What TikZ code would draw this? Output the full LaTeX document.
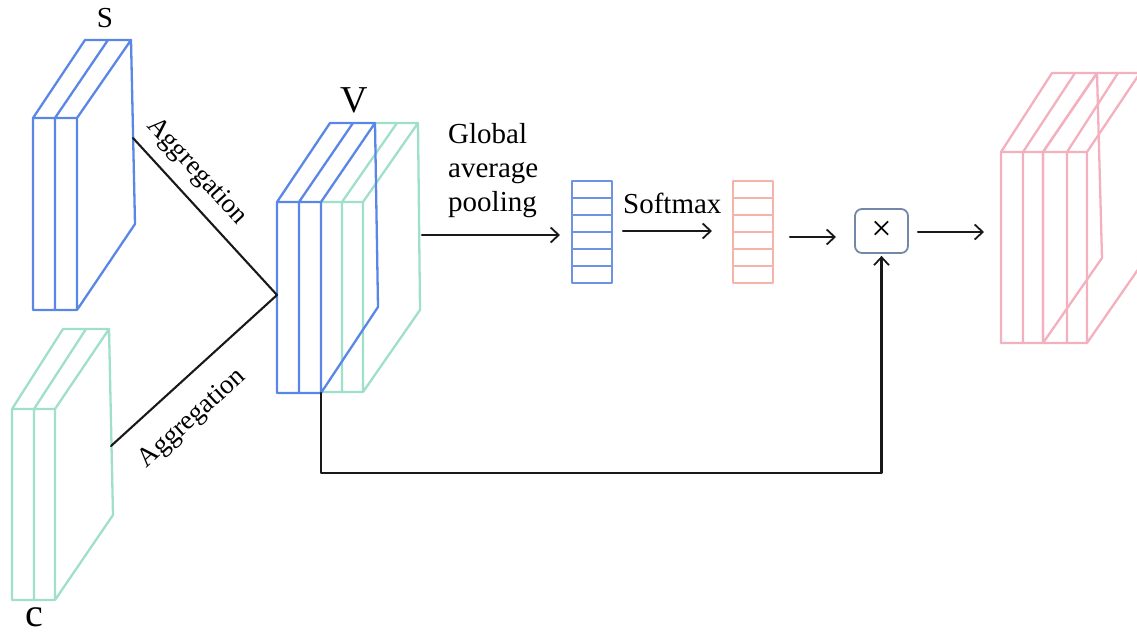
\documentclass[tikz,border=0pt]{standalone}
\usepackage{fontspec}
\setmainfont{Liberation Serif}
\usetikzlibrary{arrows.meta}
\definecolor{sblue}{RGB}{90,135,230}
\definecolor{vblue}{RGB}{110,148,225}
\definecolor{sgreen}{RGB}{160,224,203}
\definecolor{spink}{RGB}{244,176,190}
\definecolor{vpink}{RGB}{244,180,170}
\definecolor{boxc}{RGB}{115,135,168}
\begin{document}
\begin{tikzpicture}[x=1pt,y=-1pt,line join=round,line cap=round,
  slab/.style={line width=2.3pt},
  conn/.style={line width=2.1pt,draw=black!90},
  arr/.style={conn,-{Straight Barb[length=8pt,width=15pt,line width=1.8pt]}},
  vec/.style={draw,line width=1.6pt,minimum width=40pt,minimum height=102pt,inner sep=0pt},
  txt/.style={font=\fontsize{29}{34}\selectfont,inner sep=0pt},
  agg/.style={font=\fontsize{27}{30}\selectfont,inner sep=0pt},
]
\useasboundingbox (0,0) rectangle (1137,634);

% ---- S block
\draw[slab,sblue] (33,118) rectangle (77,310) (55,118) -- (55,310)
  (33,118) -- (85,40) -- (131,40) -- (77,118) (55,118) -- (108,40)
  (131,40) -- (135,224) -- (77,310);
\node[font=\fontsize{29}{29}\selectfont,inner sep=0pt,anchor=base] (slbl) at (105,28) {S};

% ---- C block
\draw[slab,sgreen] (12,409) rectangle (55,600) (34,409) -- (34,600)
  (12,409) -- (63,329) -- (109,329) -- (55,409) (34,409) -- (86,329)
  (109,329) -- (113,515) -- (55,600);
\node[font=\fontsize{40}{40}\selectfont,inner sep=0pt,anchor=base] (clbl) at (34,626) {c};

% ---- V block (green behind, blue in front)
\draw[slab,sgreen] (321,202) -- (363,202) -- (363,392) -- (321,392) (342,202) -- (342,392)
  (342,202) -- (397,123) (363,202) -- (418,123) (375,123) -- (418,123) -- (420,310) -- (363,392);
\draw[slab,sblue] (277,202) rectangle (321,393) (299,202) -- (299,393)
  (277,202) -- (330,123) -- (375,123) -- (321,202) (299,202) -- (353,123)
  (375,123) -- (378,307) -- (321,393);
\node[font=\fontsize{38}{38}\selectfont,inner sep=0pt,anchor=base] (vlbl) at (354,112) {V};

% ---- aggregation connectors
\coordinate (sR) at (133,138);
\coordinate (cR) at (111,446);
\coordinate (jn) at (277,295);
\draw[conn] (sR) -- (jn) node[pos=0.32,sloped,above=11pt,agg] (agg1) {Aggregation};
\draw[conn] (cR) -- (jn) node[pos=0.35,sloped,below=22pt,agg] (agg2) {Aggregation};

% ---- global average pooling
\coordinate (vR) at (422,235);
\node[txt,align=left,anchor=north west] (gaptxt) at (448,123) {Global\\average\\pooling};
\node[vec,draw=vblue] (gv) at (592,232) {};
\foreach \i in {1,...,5} \draw[vblue,line width=1.4pt] (572,181+\i*17) -- (612,181+\i*17);
\coordinate (gvIn) at (560,235);
\draw[arr] (vR) -- (gvIn);

% ---- softmax
\node[txt,anchor=base west] (smtxt) at (623,213) {Softmax};
\node[vec,draw=vpink] (sv) at (753,232) {};
\foreach \i in {1,...,5} \draw[vpink,line width=1.4pt] (733,181+\i*17) -- (773,181+\i*17);
\coordinate (smA) at (623,231);
\coordinate (smB) at (712,231);
\draw[arr] (smA) -- (smB);

% ---- multiply
\node[draw=boxc,line width=1.8pt,rounded corners=7pt,minimum width=53pt,minimum height=44pt,
  font=\fontsize{36}{36}\selectfont,inner sep=0pt] (mul) at (881.5,231) {×};
\coordinate (pA) at (790,237);
\coordinate (pB) at (836,237);
\draw[arr] (pA) -- (pB);
\coordinate (mA) at (918,232);
\coordinate (mB) at (984,232);
\draw[arr] (mA) -- (mB);

% ---- skip connection
\coordinate (vB) at (321,393);
\coordinate (lowL) at (321,473);
\draw[arr,shorten >=2pt] (vB) -- (lowL) -| (mul.south);

% ---- output block
\begin{scope}
\clip (0,0) rectangle (1137,634);
\draw[slab,spink] (1001,152) rectangle (1043,343) (1023,152) -- (1023,343)
  (1001,152) -- (1052,73) -- (1097,73) -- (1043,152) (1023,152) -- (1075,73)
  (1097,73) -- (1102,258) -- (1043,343);
\draw[slab,spink] (1043,152) rectangle (1087,343) (1067,152) -- (1067,343)
  (1043,152) -- (1097,73) -- (1140,73) -- (1087,152) (1067,152) -- (1118,73)
  (1140,73) -- (1146,258) -- (1087,343);
\end{scope}
\end{tikzpicture}
\end{document}
